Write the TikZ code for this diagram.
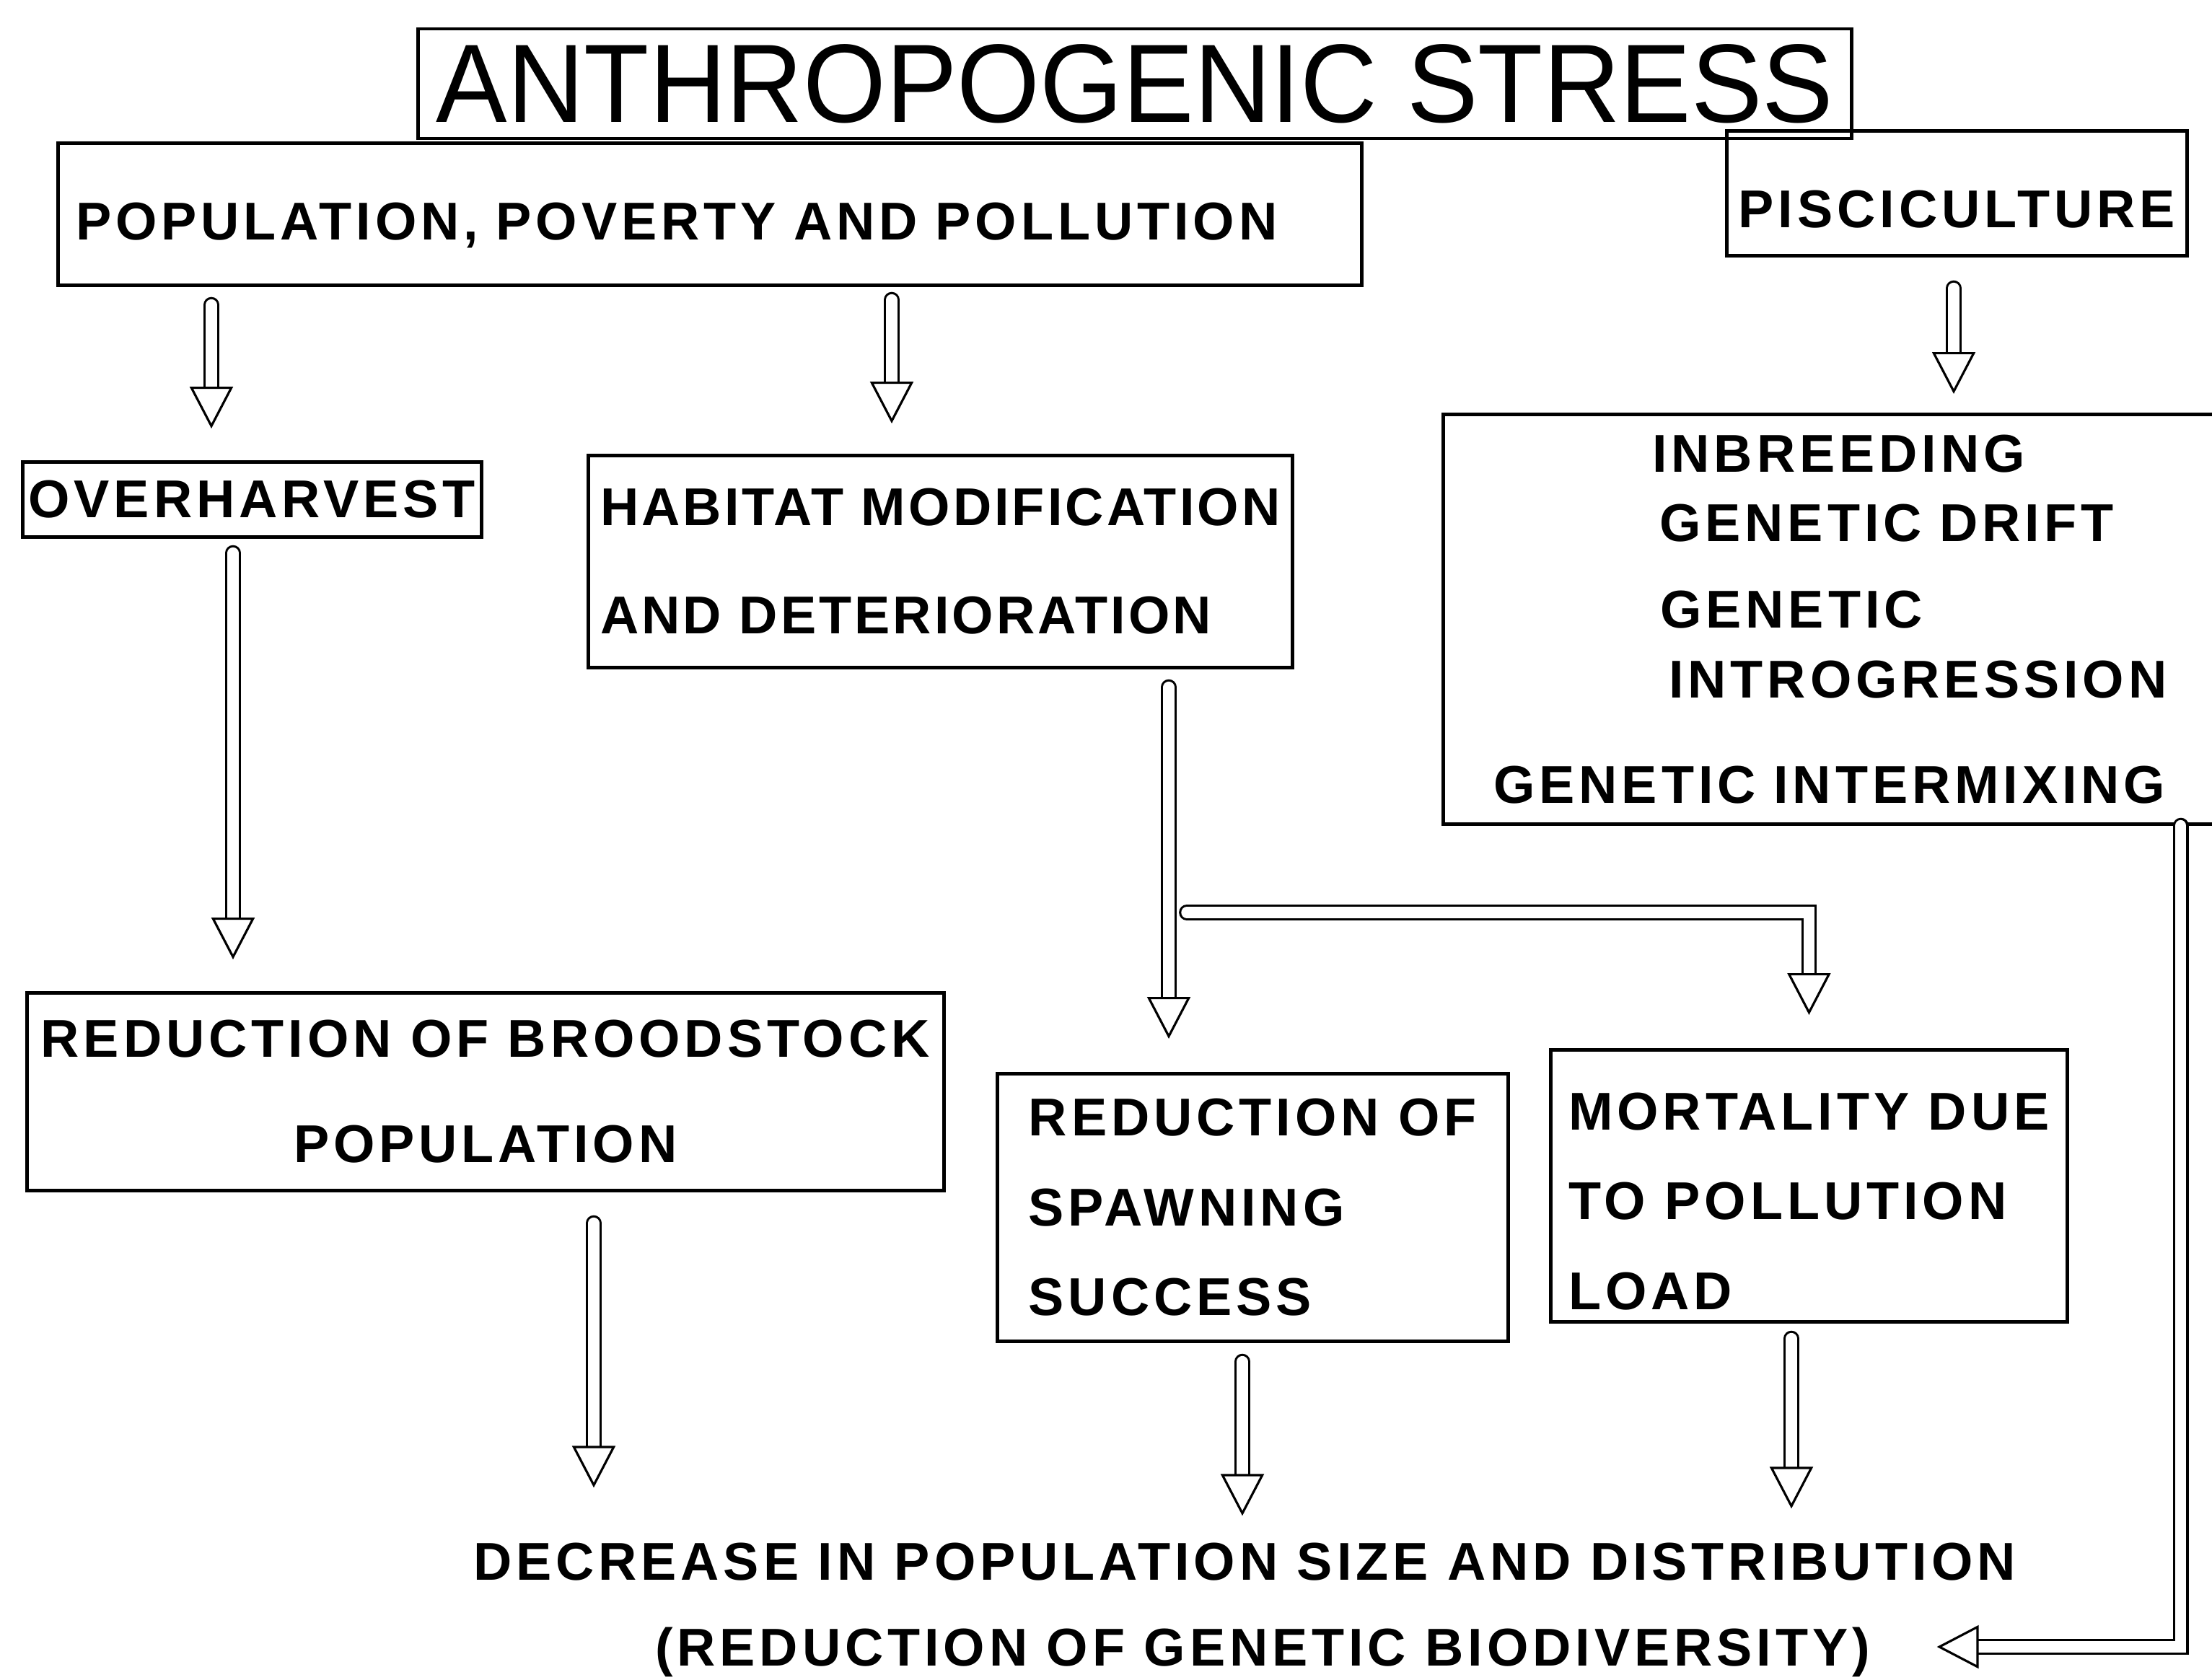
\documentclass[tikz,border=0pt]{standalone}
\usepackage{fontspec}
\setmainfont{Liberation Sans}
\newfontfamily\capsfont[LetterSpace=8.0]{Liberation Sans}
\usetikzlibrary{arrows.meta}

\tikzset{
  box/.style={draw, line width=1.3pt, anchor=north west, align=left, inner xsep=0.25cm,
    font=\capsfont\bfseries\fontsize{21}{24}\selectfont},
  result/.style={inner sep=0pt, text height=0.52cm, text depth=0pt,
    font=\capsfont\bfseries\fontsize{21}{24}\selectfont},
  hollow/.style={double, double distance=4.4pt, line width=0.9pt, line cap=round,
    -{Triangle[fill=white, length=16.5pt, width=17pt, line width=0.9pt]}}
}

\begin{document}
\begin{tikzpicture}
    \path[use as bounding box, fill=white] (0,0) rectangle (30.66,-23.28);

    % top row
    \node[box, anchor=center, align=center, minimum width=19.8cm, minimum height=1.52cm,
      font=\fontsize{44}{44}\selectfont] (stress) at (15.73,-1.16) {\scalebox{0.955}[1]{ANTHROPOGENIC STRESS}};
    \node[box, minimum width=18.05cm, minimum height=1.97cm, text width=17.57cm,
      text height=0.72cm, text depth=0pt] (pop) at (0.78,-1.96) {POPULATION, POVERTY AND POLLUTION};
    \node[box, align=center, inner xsep=0.08cm, minimum width=6.38cm, minimum height=1.73cm,
      text height=0.96cm, text depth=0pt] (pisc) at (23.91,-1.79) {PISCICULTURE};

    % second row
    \node[box, align=center, inner xsep=0.03cm, minimum width=6.36cm, minimum height=1.04cm] (over) at (0.29,-6.38) {OVERHARVEST};
    \node[box, inner xsep=0.1cm, minimum width=9.76cm, minimum height=2.94cm] (hab) at (8.13,-6.29)
      {\addfontfeatures{LetterSpace=5.5}HABITAT MODIFICATION\\[0.66cm]\addfontfeatures{LetterSpace=5.5}AND DETERIORATION};
    \node[box, inner xsep=0.7cm, text width=9.6cm, minimum height=5.68cm] (gen) at (19.98,-5.72)
      {\hspace*{2.2cm}INBREEDING\\[0.12cm]\hspace*{2.3cm}GENETIC DRIFT\\[0.36cm]\hspace*{2.31cm}GENETIC\\[0.12cm]\hspace*{2.43cm}INTROGRESSION\\[0.62cm]GENETIC INTERMIXING};

    % third row
    \node[box, align=center, inner xsep=0.08cm, minimum width=12.71cm, minimum height=2.74cm] (brood) at (0.35,-13.74) {REDUCTION OF BROODSTOCK\\[0.62cm]POPULATION};
    \node[box, minimum width=7.08cm, minimum height=3.71cm] (spawn) at (13.80,-14.86) {REDUCTION OF\\[0.4cm]SPAWNING\\[0.4cm]SUCCESS};
    \node[box, minimum width=7.13cm, minimum height=3.77cm] (mort) at (21.47,-14.53) {\rule{0pt}{0.95cm}MORTALITY DUE\\[0.4cm]TO POLLUTION\\[0.4cm]LOAD};

    % result
    \node[result] (res1) at (17.25,-21.64) {DECREASE IN POPULATION SIZE AND DISTRIBUTION};
    \node[result] (res2) at (17.50,-22.83) {(REDUCTION OF GENETIC BIODIVERSITY)};

    % arrows
    \draw[hollow, shorten <=0.25cm, shorten >=0.44cm] (2.93,0 |- pop.south) -- (2.93,0 |- over.north);
    \draw[hollow, shorten <=0.18cm, shorten >=0.42cm] (12.36,0 |- pop.south) -- (12.36,0 |- hab.north);
    \draw[hollow, shorten <=0.43cm, shorten >=0.26cm] (27.08,0 |- pisc.south) -- (27.08,0 |- gen.north);
    \draw[hollow, shorten <=0.20cm, shorten >=0.44cm] (3.23,0 |- over.south) -- (3.23,0 |- brood.north);
    \draw[hollow, shorten <=0.25cm, shorten >=0.46cm] (16.20,0 |- hab.south) -- (16.20,0 |- spawn.north);
    \coordinate (fork) at (16.45,-12.65);
    \draw[hollow, shorten >=0.46cm] (fork) -| (mort.north);
    \draw[hollow, shorten <=0.43cm, shorten >=0.75cm] (8.23,0 |- brood.south) -- (8.23,0 |- res1.north);
    \draw[hollow, shorten <=0.26cm, shorten >=0.36cm] (17.22,0 |- spawn.south) -- (17.22,0 |- res1.north);
    \draw[hollow, shorten <=0.21cm, shorten >=0.46cm] (24.83,0 |- mort.south) -- (24.83,0 |- res1.north);
    \draw[hollow, shorten >=0.92cm] ([xshift=-0.8cm]gen.south east) |- (res2.east);
\end{tikzpicture}
\end{document}
